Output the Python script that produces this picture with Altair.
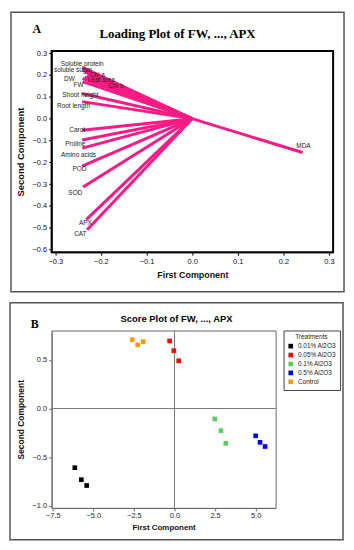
import altair as alt
import pandas as pd

# ---------------- Panel A: loading plot ----------------
variables = ["Soluble protein", "soluble sugar", "Chl a", "Leaf area", "Chl b", "DW", "FW",
             "Shoot height", "Root length", "Carot", "Proline", "Amino acids", "POD", "SOD",
             "APX", "CAT", "MDA"]
load_pc1 = [-0.241, -0.240, -0.232, -0.230, -0.235, -0.240, -0.240, -0.241, -0.241, -0.241,
            -0.241, -0.241, -0.241, -0.239, -0.232, -0.230, 0.242]
load_pc2 = [0.235, 0.222, 0.212, 0.200, 0.190, 0.185, 0.170, 0.115, 0.078, -0.053,
            -0.098, -0.135, -0.218, -0.313, -0.463, -0.509, -0.155]
# label anchor points (data units)
label_pc1 = [-0.241, -0.261, -0.208, -0.199, -0.167, -0.269, -0.249, -0.245, -0.260, -0.252,
             -0.256, -0.249, -0.247, -0.256, -0.234, -0.245, 0.244]
label_pc2 = [0.251, 0.221, 0.201, 0.175, 0.148, 0.182, 0.156, 0.106, 0.060, -0.053,
             -0.117, -0.167, -0.230, -0.340, -0.476, -0.530, -0.126]
ticks_a_x = [-0.3, -0.2, -0.1, 0.0, 0.1, 0.2, 0.3]
ticks_a_y = [-0.6, -0.5, -0.4, -0.3, -0.2, -0.1, 0.0, 0.1, 0.2, 0.3]

# ---------------- Panel B: score plot ----------------
treatments = ["0.01% Al2O3", "0.05% Al2O3", "0.1% Al2O3", "0.5% Al2O3", "Control"]
treat_colors = ["#000000", "#ff0000", "#5ccd5c", "#0000ff", "#ff9900"]
score_group = (["0.01% Al2O3"] * 3 + ["0.05% Al2O3"] * 3 + ["0.1% Al2O3"] * 3 +
               ["0.5% Al2O3"] * 3 + ["Control"] * 3)
score_pc1 = [-6.14, -5.74, -5.41, -0.30, -0.04, 0.26, 2.48, 2.86, 3.16, 5.00, 5.27, 5.58,
             -2.60, -2.27, -1.93]
score_pc2 = [-0.607, -0.730, -0.790, 0.693, 0.593, 0.490, -0.107, -0.227, -0.357, -0.280,
             -0.347, -0.390, 0.706, 0.653, 0.686]
ticks_b_x = [-7.5, -5.0, -2.5, 0.0, 2.5, 5.0]
ticks_b_y = [-1.0, -0.5, 0.0, 0.5]

title_a = "Loading Plot of FW, ..., APX"
title_b = "Score Plot of FW, ..., APX"
x_title = "First Component"
y_title = "Second Component"

SANS = "Liberation Sans, Arial, sans-serif"
SERIF = "Liberation Serif, Times New Roman, serif"

load_df = pd.DataFrame({"var": variables, "pc1": load_pc1, "pc2": load_pc2,
                        "lx": label_pc1, "ly": label_pc2,
                        "x0": [0.0] * len(variables), "y0": [0.0] * len(variables)})
one = pd.DataFrame({"t": [title_a], "p": ["A"]})

sc_ax = alt.Scale(domain=[-0.308, 0.309], nice=False, zero=False)
sc_ay = alt.Scale(domain=[-0.612, 0.31], nice=False, zero=False)
ax_ax = alt.Axis(values=ticks_a_x, format=".1f", title=x_title, grid=False,
                 tickSize=3, tickColor="black", domainColor="black",
                 labelFontSize=7.5, labelFont=SANS, labelColor="#111", labelOverlap=False,
                 titleFontSize=9, titleFont=SANS, titleFontWeight="bold",
                 titleColor="#111", titlePadding=6, labelPadding=2)
ax_ay = alt.Axis(values=ticks_a_y, format=".1f", title=y_title, grid=False,
                 tickSize=3, tickColor="black", domainColor="black",
                 labelFontSize=7.5, labelFont=SANS, labelColor="#111", labelOverlap=False,
                 titleFontSize=9.5, titleFont=SANS, titleFontWeight="bold",
                 titleColor="#111", titlePadding=7, labelPadding=2)

box_a = alt.Chart(one).mark_rect(fillOpacity=0, stroke="#555", strokeWidth=1.5).encode(
    x=alt.value(-41), x2=alt.value(295), y=alt.value(-39), y2=alt.value(243))
rules_a = alt.Chart(load_df).mark_rule(color="#f81b84", strokeWidth=3).encode(
    x=alt.X("x0:Q", scale=sc_ax, axis=ax_ax), y=alt.Y("y0:Q", scale=sc_ay, axis=ax_ay),
    x2="pc1:Q", y2="pc2:Q")
labels_a = alt.Chart(load_df).mark_text(fontSize=6.5, font=SANS, color="#222").encode(
    x=alt.X("lx:Q", scale=sc_ax, axis=ax_ax), y=alt.Y("ly:Q", scale=sc_ay, axis=ax_ay),
    text="var:N")
ttl_a = alt.Chart(one).mark_text(font=SERIF, fontSize=13, fontWeight="bold", color="black").encode(
    x=alt.value(127), y=alt.value(-17), text="t:N")
let_a = alt.Chart(one).mark_text(font=SERIF, fontSize=12, fontWeight="bold", color="black").encode(
    x=alt.value(-15), y=alt.value(-22), text="p:N")

panel_a = alt.layer(box_a, rules_a, labels_a, ttl_a, let_a).properties(
    width=284, height=203, view=alt.ViewBackground(stroke="black", strokeWidth=2))

# ---------------- Panel B chart ----------------
score_df = pd.DataFrame({"Treatments": score_group, "pc1": score_pc1, "pc2": score_pc2})
one_b = pd.DataFrame({"t": [title_b], "p": ["B"], "z": [0.0]})

sc_bx = alt.Scale(domain=[-7.57, 6.23], nice=False, zero=False)
sc_by = alt.Scale(domain=[-1.02, 0.80], nice=False, zero=False)
ax_bx = alt.Axis(values=ticks_b_x, format=".1f", title=x_title, grid=False,
                 tickSize=3, tickColor="#666", domainColor="#666",
                 labelFontSize=7.5, labelFont=SANS, labelColor="#222", labelOverlap=False,
                 titleFontSize=8, titleFont=SANS, titleFontWeight="bold",
                 titleColor="#111", titlePadding=4, labelPadding=1)
ax_by = alt.Axis(values=ticks_b_y, format=".1f", title=y_title, grid=False,
                 tickSize=3, tickColor="#666", domainColor="#666",
                 labelFontSize=7.5, labelFont=SANS, labelColor="#222", labelOverlap=False,
                 titleFontSize=8.5, titleFont=SANS, titleFontWeight="bold",
                 titleColor="#111", titlePadding=7, labelPadding=2)

box_b = alt.Chart(one_b).mark_rect(fillOpacity=0, stroke="#555", strokeWidth=1.5).encode(
    x=alt.value(-42), x2=alt.value(294), y=alt.value(-28), y2=alt.value(211))
ref_x = alt.Chart(one_b).mark_rule(color="#777", strokeWidth=1).encode(
    x=alt.X("z:Q", scale=sc_bx, axis=ax_bx))
ref_y = alt.Chart(one_b).mark_rule(color="#777", strokeWidth=1).encode(
    y=alt.Y("z:Q", scale=sc_by, axis=ax_by))
pts = alt.Chart(score_df).mark_square(size=22, opacity=1).encode(
    x=alt.X("pc1:Q", scale=sc_bx, axis=ax_bx),
    y=alt.Y("pc2:Q", scale=sc_by, axis=ax_by),
    color=alt.Color("Treatments:N", scale=alt.Scale(domain=treatments, range=treat_colors),
                    legend=alt.Legend(orient="none", legendX=234, legendY=0,
                                      title="Treatments", titleFontSize=6.5, titleFont=SANS,
                                      titleFontWeight="normal", titleAnchor="middle",
                                      titleColor="#222", titlePadding=2,
                                      labelFontSize=6.5, labelFont=SANS, labelColor="#222",
                                      symbolType="square", symbolSize=22, rowPadding=2,
                                      labelOffset=4, strokeColor="#444", fillColor="white",
                                      padding=4, symbolStrokeWidth=0)))
ttl_b = alt.Chart(one_b).mark_text(font=SANS, fontSize=9.5, fontWeight="bold", color="black").encode(
    x=alt.value(126), y=alt.value(-12), text="t:N")
let_b = alt.Chart(one_b).mark_text(font=SERIF, fontSize=12, fontWeight="bold", color="black").encode(
    x=alt.value(-17), y=alt.value(-7), text="p:N")

panel_b = alt.layer(box_b, ref_x, ref_y, pts, ttl_b, let_b).properties(
    width=226, height=179, view=alt.ViewBackground(stroke="#666", strokeWidth=1))

chart = alt.vconcat(panel_a, panel_b, spacing=7).resolve_scale(
    color="independent").resolve_legend(color="independent").properties(
    padding=0).configure(background="white", padding=0)

chart.save("out.html", embed_options={"renderer": "svg", "actions": False})
